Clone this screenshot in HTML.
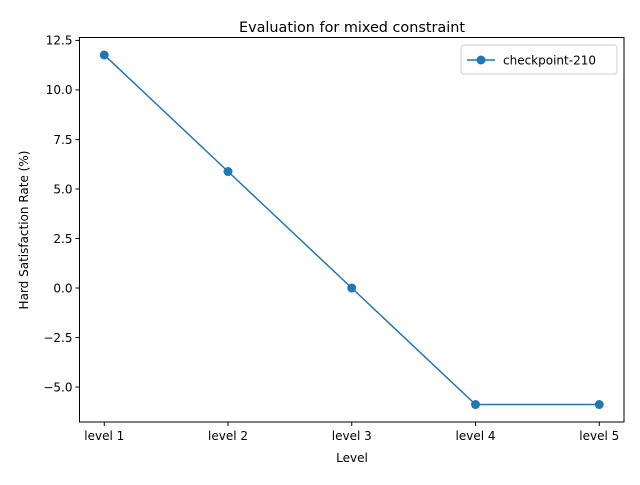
<!DOCTYPE html>
<html><head><meta charset="utf-8"><style>
body{margin:0;background:#fff}
svg text{font-family:"DejaVu Sans","Liberation Sans",sans-serif;fill:#000}
</style></head><body>
<svg id="chart" width="640" height="480" viewBox="0 0 640 480">
<text x="352" y="32" font-size="14.4" text-anchor="middle">Evaluation for mixed constraint</text>
<g id="plot"></g>
<text x="352" y="462" font-size="12" text-anchor="middle">Level</text>
<text transform="translate(28,230) rotate(-90)" font-size="12" text-anchor="middle">Hard Satisfaction Rate (%)</text>
</svg>
<script>
const categories=["level 1","level 2","level 3","level 4","level 5"];
const values=[11.765,5.882,0,-5.882,-5.882];
const yTicks=[-5.0,-2.5,0.0,2.5,5.0,7.5,10.0,12.5];
const seriesName="checkpoint-210";
const L=79.5,R=624,T=37.5,B=422;
const NS="http://www.w3.org/2000/svg";
const g=document.getElementById('plot');
const n=categories.length;
const xs=(R-L)/(n-1+0.4);
const xf=i=>L+(i+0.2)*xs;
const mn=Math.min(...values),mx=Math.max(...values),pad=(mx-mn)*0.05||1;
const y0=mn-pad,y1=mx+pad;
const yf=v=>B-(v-y0)/(y1-y0)*(B-T);
function el(t,a){const e=document.createElementNS(NS,t);for(const k in a)e.setAttribute(k,a[k]);g.appendChild(e);return e;}
const frame=el('rect',{x:L,y:T,width:R-L,height:B-T,fill:'none',stroke:'#000','stroke-width':1});


categories.forEach((c,i)=>{
 const x=xf(i);
 const tk=el('line',{x1:x,x2:x,y1:B,y2:B+4,stroke:'#000'});
 
 
 const t=el('text',{x:x,y:B+18,'font-size':12,'text-anchor':'middle'});t.textContent=c;
 
 
});
yTicks.forEach(v=>{
 const y=yf(v);
 const tk=el('line',{x1:L-4,x2:L,y1:y,y2:y,stroke:'#000'});
 
 
 const t=el('text',{x:L-7,y:y+4.3,'font-size':12,'text-anchor':'end'});t.textContent=(v<0?'\u2212':'')+Math.abs(v).toFixed(1);
 
 
});
const line=el('polyline',{points:values.map((v,i)=>xf(i)+','+yf(v)).join(' '),fill:'none',stroke:'#1f77b4','stroke-width':1.5});


values.forEach((v,i)=>{
 const p=el('circle',{cx:xf(i),cy:yf(v),r:4.5,fill:'#1f77b4'});
 
 
});
const lg=el('rect',{x:461,y:45,width:156,height:29,rx:3,fill:'#fff',stroke:'#ccc'});


const ll=el('line',{x1:467,x2:495,y1:60,y2:60,stroke:'#1f77b4','stroke-width':1.5});


const lc=el('circle',{cx:481,cy:60,r:4.5,fill:'#1f77b4'});


const lt=el('text',{x:503,y:64.5,'font-size':12});lt.textContent=seriesName;


</script>
</body></html>
